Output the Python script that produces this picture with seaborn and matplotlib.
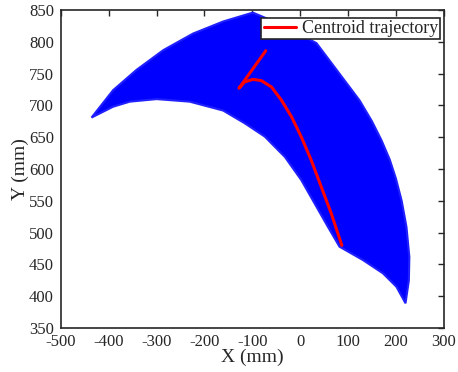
import numpy as np
import pandas as pd
import matplotlib
matplotlib.use("Agg")
import matplotlib.pyplot as plt
import seaborn as sns

# workspace boundary (mm), going round the crescent
outer_x = [-436, -391, -342, -286, -224, -161, -99, -36, 34, 82, 124, 150, 170, 187, 200, 212, 222, 228, 227, 220]
outer_y = [681, 724, 756, 787, 813, 832, 846, 826, 798, 750, 708, 675, 645, 615, 585, 550, 509, 462, 425, 389]
inner_x = [201, 173, 131, 82, 58, 30, 2, -32, -74, -116, -161, -231, -300, -356, -391]
inner_y = [415, 436, 457, 478, 509, 546, 583, 619, 651, 672, 692, 706, 710, 706, 698]

# centroid trajectory
traj_x = [-72, -128, -116, -99, -81, -60, -39, -18, 2, 23, 44, 65, 87]
traj_y = [786, 727, 737, 741, 739, 729, 708, 682, 651, 614, 572, 530, 480]

sns.set_theme(style="white")
plt.rcParams['font.family'] = ['Liberation Serif', 'DejaVu Serif']
plt.rcParams['axes.unicode_minus'] = False

fig = plt.figure(figsize=(4.58, 3.72), dpi=100)
ax = fig.add_axes([0.133, 0.118, 0.836, 0.855])

bx = outer_x + inner_x
by = outer_y + inner_y
ax.fill(bx, by, color="#0000ff", edgecolor="#2020ff", linewidth=1.5, zorder=1)

traj = pd.DataFrame({"x": traj_x, "y": traj_y})
sns.lineplot(data=traj, x="x", y="y", sort=False, color="red", linewidth=2.2,
             label="Centroid trajectory", ax=ax, zorder=3)

ax.set_xlim(-500, 300)
ax.set_ylim(350, 850)
ax.set_xticks(np.arange(-500, 301, 100))
ax.set_yticks(np.arange(350, 851, 50))
ax.tick_params(direction="in", top=True, right=True, length=4, width=1,
               labelsize=12, colors="#262626")
ax.tick_params(axis="x", pad=4)
ax.tick_params(axis="y", pad=5)
for sp in ax.spines.values():
    sp.set_color("#262626")
    sp.set_linewidth(1.2)
ax.set_xlabel("X (mm)", fontsize=14, labelpad=-1)
ax.set_ylabel("Y (mm)", fontsize=14, labelpad=0)

leg = ax.legend(loc="upper right", bbox_to_anchor=(0.99, 0.975), fontsize=13,
                frameon=True, fancybox=False, edgecolor="#262626", framealpha=1,
                handlelength=1.8, handletextpad=0.3, borderpad=0.12,
                borderaxespad=0)
leg.get_frame().set_linewidth(1.2)
leg.set_zorder(5)

fig.savefig("out.png", dpi=100)
